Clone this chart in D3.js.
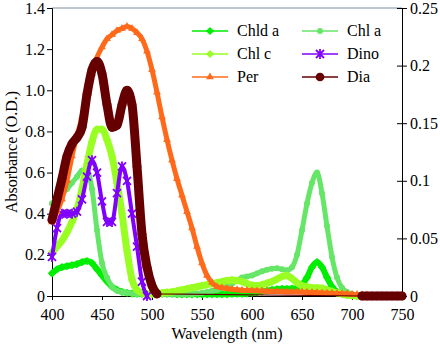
<!DOCTYPE html>
<html>
<head>
<meta charset="utf-8">
<script src="https://cdn.jsdelivr.net/npm/d3@7"></script>
<style>
  body { margin: 0; background: #fff; }
</style>
</head>
<body>
<svg id="chart" width="440" height="346"></svg>
<script>
// wavelengths sampled every 5 nm
const wavelength = d3.range(400, 751, 5);

const chldA = [
  0.11, 0.13, 0.14, 0.145, 0.15, 0.155, 0.165, 0.17, 0.16, 0.13,
  0.10, 0.07, 0.045, 0.03, 0.02, 0.015, 0.012, 0.01, 0.01, 0.01,
  0.01, 0.01, 0.01, 0.01, 0.01, 0.008, 0.008, 0.008, 0.008, 0.008,
  0.008, 0.008, 0.008, 0.008, 0.008, 0.008, 0.01, 0.01, 0.01, 0.012,
  0.015, 0.018, 0.022, 0.026, 0.03, 0.033, 0.035, 0.035, 0.036, 0.04,
  0.055, 0.09, 0.14, 0.165, 0.14, 0.09, 0.045, 0.02, 0.01, 0.005,
  0.003, 0, 0, 0, 0, 0, 0, 0, 0, 0,
  0
];
const chlA = [
  0.45, 0.48, 0.50, 0.52, 0.55, 0.58, 0.61, 0.61, 0.52, 0.32,
  0.16, 0.09, 0.045, 0.025, 0.018, 0.015, 0.012, 0.01, 0.01, 0.01,
  0.01, 0.01, 0.01, 0.01, 0.01, 0.01, 0.01, 0.01, 0.01, 0.012,
  0.015, 0.02, 0.025, 0.03, 0.04, 0.05, 0.06, 0.075, 0.09, 0.095,
  0.10, 0.11, 0.12, 0.128, 0.133, 0.135, 0.13, 0.125, 0.14, 0.20,
  0.32, 0.45, 0.55, 0.60, 0.50, 0.34, 0.19, 0.09, 0.04, 0.02,
  0.01, 0.005, 0, 0, 0, 0, 0, 0, 0, 0,
  0
];
const chlC = [
  0.21, 0.24, 0.27, 0.31, 0.36, 0.42, 0.52, 0.64, 0.75, 0.81,
  0.81, 0.76, 0.68, 0.55, 0.40, 0.22, 0.08, 0.03, 0.015, 0.01,
  0.01, 0.012, 0.015, 0.018, 0.02, 0.025, 0.03, 0.035, 0.04, 0.045,
  0.05, 0.055, 0.06, 0.065, 0.07, 0.075, 0.078, 0.075, 0.07, 0.06,
  0.052, 0.05, 0.055, 0.062, 0.07, 0.082, 0.095, 0.10, 0.085, 0.065,
  0.05, 0.045, 0.04, 0.04, 0.038, 0.03, 0.022, 0.015, 0.01, 0.005,
  0.003, 0, 0, 0, 0, 0, 0, 0, 0, 0,
  0
];
// Dino only measured up to 495 nm
const dino = [
  0.19, 0.33, 0.40, 0.40, 0.40, 0.41, 0.47, 0.58, 0.66, 0.60,
  0.46, 0.36, 0.36, 0.50, 0.63, 0.56, 0.40, 0.24, 0.07, 0
];
const per = [
  0.36, 0.41, 0.47, 0.56, 0.68, 0.78, 0.87, 0.98, 1.08, 1.16,
  1.21, 1.25, 1.27, 1.29, 1.30, 1.31, 1.30, 1.28, 1.25, 1.19,
  1.10, 0.99, 0.87, 0.76, 0.66, 0.57, 0.49, 0.41, 0.33, 0.24,
  0.16, 0.10, 0.065, 0.045, 0.04, 0.036, 0.033, 0.03, 0.028, 0.027,
  0.026, 0.025, 0.024, 0.023, 0.022, 0.022, 0.021, 0.02, 0.02, 0.02,
  0.019, 0.018, 0.017, 0.016, 0.015, 0.014, 0.013, 0.012, 0.011, 0.01,
  0.009, 0.007, 0.005, 0.003, 0, 0, 0, 0, 0, 0,
  0
];
// Dia: gap between 510 and 705 nm
const dia = [
  0.37, 0.47, 0.57, 0.68, 0.74, 0.77, 0.82, 0.98, 1.10, 1.14,
  1.08, 0.93, 0.82, 0.83, 0.93, 1.00, 0.93, 0.63, 0.30, 0.14,
  0.05, 0.01, null, null, null, null, null, null, null, null,
  null, null, null, null, null, null, null, null, null, null,
  null, null, null, null, null, null, null, null, null, null,
  null, null, null, null, null, null, null, null, null, null,
  null, null, 0, 0, 0, 0, 0, 0, 0, 0,
  0
];

const xTicks = [400, 450, 500, 550, 600, 650, 700, 750];
const leftTicks = [0, 0.2, 0.4, 0.6, 0.8, 1.0, 1.2, 1.4];
const leftTickLabels = ['0', '0.2', '0.4', '0.6', '0.8', '1.0', '1.2', '1.4'];
const rightTicks = [0, 0.05, 0.1, 0.15, 0.2, 0.25];
const rightTickLabels = ['0', '0.05', '0.1', '0.15', '0.2', '0.25'];

const FONT = '"Liberation Serif"';

const svg = d3.select('#chart');
const plotLeft = 52, plotRight = 402, plotTop = 8, plotBottom = 296;

const x = d3.scaleLinear().domain([400, 750]).range([plotLeft, plotRight]);
const y = d3.scaleLinear().domain([0, 1.4]).range([plotBottom, plotTop]);
const yR = d3.scaleLinear().domain([0, 0.25]).range([plotBottom, plotTop]);

// top frame
svg.append('line')
  .attr('x1', plotLeft).attr('x2', plotRight).attr('y1', plotTop).attr('y2', plotTop)
  .attr('stroke', '#7f8e9b').attr('stroke-width', 1);

const gx = svg.append('g').attr('transform', `translate(0,${plotBottom})`)
  .call(d3.axisBottom(x).tickValues(xTicks).tickFormat(d3.format('d')).tickSize(4).tickPadding(9));
const gl = svg.append('g').attr('transform', `translate(${plotLeft},0)`)
  .call(d3.axisLeft(y).tickValues(leftTicks).tickFormat((d, i) => leftTickLabels[i]).tickSize(5).tickPadding(2));
const gr = svg.append('g').attr('transform', `translate(${plotRight},0)`)
  .call(d3.axisRight(yR).tickValues(rightTicks).tickFormat((d, i) => rightTickLabels[i]).tickSize(5).tickPadding(3));
gr.selectAll('.tick line').attr('x1', -5);

[gx, gl, gr].forEach(g => {
  g.attr('font-family', null).attr('font-size', null);
  g.select('.domain').attr('stroke', '#000');
  g.selectAll('.tick line').attr('stroke', '#000');
  g.selectAll('text')
    .style('font-family', FONT).style('font-size', '16px').attr('fill', '#000');
});

svg.append('text')
  .attr('x', 227).attr('y', 339)
  .attr('text-anchor', 'middle')
  .style('font-family', FONT).style('font-size', '16px')
  .text('Wavelength (nm)');

svg.append('text')
  .attr('transform', 'translate(17,152) rotate(-90)')
  .attr('text-anchor', 'middle')
  .style('font-family', FONT).style('font-size', '16px')
  .text('Absorbance (O.D.)');

// marker shapes
const shapes = {
  diamond: d3.symbol(d3.symbolSquare, 34)(),
  circle: d3.symbol(d3.symbolCircle, 28)(),
  bigCircle: d3.symbol(d3.symbolCircle, 60)(),
  triangle: d3.symbol(d3.symbolTriangle, 26)(),
  star: 'M-4,-4L4,4M-4,4L4,-4M0,-5L0,5'
};

const series = [
  { name: 'Chld a', values: chldA, color: '#00ee00', shape: 'diamond', rotate: 45, width: 6 },
  { name: 'Chl a', values: chlA, color: '#66e666', shape: 'circle', rotate: 0, width: 5 },
  { name: 'Chl c', values: chlC, color: '#99ff22', shape: 'diamond', rotate: 45, width: 7 },
  { name: 'Dino', values: dino, color: '#8000ff', shape: 'star', rotate: 0, width: 4 },
  { name: 'Per', values: per, color: '#ff6a1a', shape: 'triangle', rotate: 0, width: 5 },
  { name: 'Dia', values: dia, color: '#660000', shape: 'bigCircle', rotate: 0, width: 9 }
];

const band = d3.line()
  .defined(d => d.v != null)
  .x(d => x(d.w))
  .y(d => y(d.v))
  .curve(d3.curveMonotoneX);

const thin = d3.line().x(d => x(d.w)).y(d => y(d.v));

function drawMarker(sel, s) {
  if (s.shape === 'star') {
    sel.attr('d', shapes.star).attr('fill', 'none')
      .attr('stroke', s.color).attr('stroke-width', 1.8);
  } else {
    sel.attr('d', shapes[s.shape]).attr('fill', s.color).attr('stroke', 'none');
  }
}

series.forEach(s => {
  const pts = wavelength.map((w, i) => ({ w: w, v: s.values[i] }));
  const known = pts.filter(d => d.v != null);
  const g = svg.append('g');

  g.append('path').datum(known)
    .attr('d', thin)
    .attr('fill', 'none').attr('stroke', s.color).attr('stroke-width', 1.2);

  g.append('path').datum(pts)
    .attr('d', band)
    .attr('fill', 'none').attr('stroke', s.color)
    .attr('stroke-width', s.width).attr('stroke-linejoin', 'round').attr('stroke-linecap', 'round');

  g.selectAll('path.mark').data(known).join('path')
    .attr('class', 'mark')
    .attr('transform', d => `translate(${x(d.w)},${y(d.v)}) rotate(${s.rotate})`)
    .call(drawMarker, s);
});

// legend, two columns
const legendCols = [192, 302];
const legendRows = [31, 54, 77];
const legend = svg.append('g');
series.forEach((s, i) => {
  const lx = legendCols[i % 2], ly = legendRows[Math.floor(i / 2)];
  const item = legend.append('g').attr('transform', `translate(${lx},${ly})`);
  item.append('line').attr('x1', 0).attr('x2', 36).attr('y1', 0).attr('y2', 0)
    .attr('stroke', s.color).attr('stroke-width', 1.6);
  item.append('path')
    .attr('transform', `translate(18,0) rotate(${s.rotate})`)
    .call(drawMarker, s);
  item.append('text').attr('x', 45).attr('y', 0).attr('dy', '0.34em')
    .style('font-family', FONT).style('font-size', '16px')
    .text(s.name);
});
</script>
</body>
</html>
